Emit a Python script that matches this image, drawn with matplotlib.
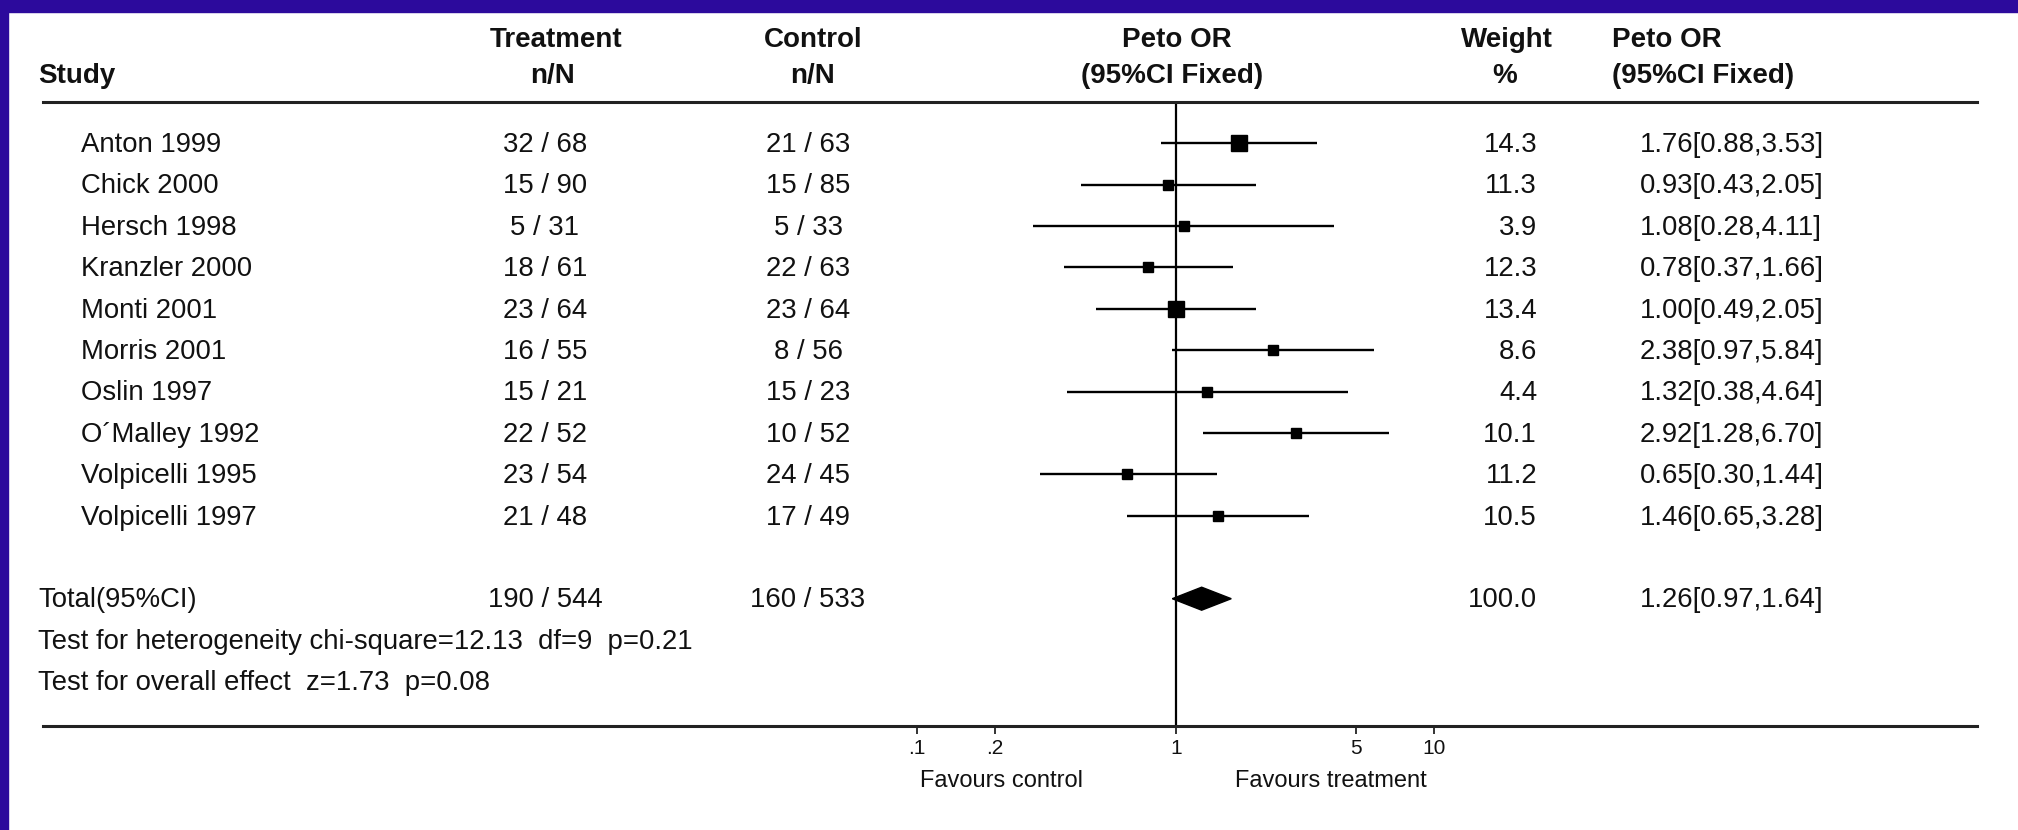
import matplotlib
matplotlib.use("Agg")
import matplotlib.pyplot as plt
import matplotlib.transforms as mtransforms
from matplotlib.patches import Rectangle

plt.rcParams['font.family'] = ['Liberation Sans', 'DejaVu Sans']

# --- data ---
studies = ["Anton 1999", "Chick 2000", "Hersch 1998", "Kranzler 2000", "Monti 2001",
           "Morris 2001", "Oslin 1997", "O´Malley 1992", "Volpicelli 1995", "Volpicelli 1997"]
treat_n = [32, 15, 5, 18, 23, 16, 15, 22, 23, 21]
treat_N = [68, 90, 31, 61, 64, 55, 21, 52, 54, 48]
ctrl_n = [21, 15, 5, 22, 23, 8, 15, 10, 24, 17]
ctrl_N = [63, 85, 33, 63, 64, 56, 23, 52, 45, 49]
weights = [14.3, 11.3, 3.9, 12.3, 13.4, 8.6, 4.4, 10.1, 11.2, 10.5]
or_est = [1.76, 0.93, 1.08, 0.78, 1.00, 2.38, 1.32, 2.92, 0.65, 1.46]
ci_low = [0.88, 0.43, 0.28, 0.37, 0.49, 0.97, 0.38, 1.28, 0.30, 0.65]
ci_high = [3.53, 2.05, 4.11, 1.66, 2.05, 5.84, 4.64, 6.70, 1.44, 3.28]

total_treat = (190, 544)
total_ctrl = (160, 533)
total_weight = 100.0
total_or, total_low, total_high = 1.26, 0.97, 1.64
heterogeneity = "Test for heterogeneity chi-square=12.13  df=9  p=0.21"
overall = "Test for overall effect  z=1.73  p=0.08"

tick_vals = [0.1, 0.2, 1, 5, 10]
tick_labels = [".1", ".2", "1", "5", "10"]

# --- figure / layout (pixels) ---
W, H = 2018, 830
fig = plt.figure(figsize=(W / 100, H / 100), dpi=100)
fig.patch.set_facecolor('white')

# blue frame (top + left)
blue = '#2c0a9c'
fig.patches.append(Rectangle((0, 1 - 12 / H), 1, 12 / H, transform=fig.transFigure,
                             color=blue, zorder=0))
fig.patches.append(Rectangle((0, 0), 8 / W, 1, transform=fig.transFigure,
                             color=blue, zorder=0))

x_left, x_right = 43, 1977
y_top, y_bot = 102, 726
ax = fig.add_axes([x_left / W, 1 - y_bot / H, (x_right - x_left) / W, (y_bot - y_top) / H])

# log axis: 1 at x=1175.7 px, one decade = 258.6 px
x_one, decade = 1175.7, 258.6
ax.set_xscale('log')
ax.set_xlim(10 ** ((x_left - x_one) / decade), 10 ** ((x_right - x_one) / decade))

# rows: first study at y=143.3 px, 41.4 px per row
row0, row_h = 143.3, 41.4
ax.set_ylim((y_bot - row0) / row_h, (y_top - row0) / row_h)

n = len(studies)
rows = list(range(n))
total_row, het_row, overall_row = 11, 12, 13

# confidence intervals and squares
ax.hlines(rows, ci_low, ci_high, color='black', lw=1.7, zorder=3)
for r, o, w in zip(rows, or_est, weights):
    ms = 11.2 if w > 13 else 7.2
    ax.plot(o, r, 's', color='black', ms=ms, zorder=4)

# pooled diamond
dh = 11.5 / row_h
ax.fill([total_low, total_or, total_high, total_or],
        [total_row, total_row - dh, total_row, total_row + dh],
        color='black', lw=1, zorder=4)

ax.axvline(1, color='black', lw=1.6, zorder=2)

for s in ['left', 'right']:
    ax.spines[s].set_visible(False)
for s in ['top', 'bottom']:
    ax.spines[s].set_linewidth(2.2)
    ax.spines[s].set_color('#222222')
ax.set_yticks([])
ax.set_xticks(tick_vals)
ax.set_xticklabels(tick_labels, fontsize=15)
ax.minorticks_off()
ax.tick_params(axis='x', direction='out', length=6, width=1.2, pad=3, colors='#111111')
ax.patch.set_alpha(0)

# --- table text ---
txt_color = '#111111'
body_fs = 19.8
head_fs = 20
base = mtransforms.blended_transform_factory(fig.transFigure, ax.transData)
trans = mtransforms.offset_copy(base, fig=fig, y=-8.7, units='dots')


def cell(xpx, r, s, ha='left'):
    ax.text(xpx / W, r, s, transform=trans, ha=ha, va='baseline',
            fontsize=body_fs, color=txt_color, clip_on=False)


for r in rows:
    cell(81, r, studies[r])
    cell(545, r, f"{treat_n[r]} / {treat_N[r]}", ha='center')
    cell(808, r, f"{ctrl_n[r]} / {ctrl_N[r]}", ha='center')
    cell(1537, r, f"{weights[r]:.1f}", ha='right')
    cell(1640, r, f"{or_est[r]:.2f}[{ci_low[r]:.2f},{ci_high[r]:.2f}]")

cell(38, total_row, "Total(95%CI)")
cell(545, total_row, f"{total_treat[0]} / {total_treat[1]}", ha='center')
cell(808, total_row, f"{total_ctrl[0]} / {total_ctrl[1]}", ha='center')
cell(1537, total_row, f"{total_weight:.1f}", ha='right')
cell(1640, total_row, f"{total_or:.2f}[{total_low:.2f},{total_high:.2f}]")
cell(38, het_row, heterogeneity)
cell(38, overall_row, overall)

# --- header ---
def head(xpx, ypx, s, ha='center'):
    fig.text(xpx / W, 1 - ypx / H, s, ha=ha, va='baseline', fontsize=head_fs,
             fontweight='bold', color=txt_color)


head(38, 83, "Study", ha='left')
head(556, 47, "Treatment")
head(552, 83, "n/N")
head(813, 47, "Control")
head(812, 83, "n/N")
head(1177, 47, "Peto OR")
head(1172, 83, "(95%CI Fixed)")
head(1507, 47, "Weight")
head(1505, 83, "%")
head(1612, 47, "Peto OR", ha='left')
head(1612, 83, "(95%CI Fixed)", ha='left')

# favours labels under the axis
fig.text(1001 / W, 1 - 781 / H, "Favours control", ha='center', va='center',
         fontsize=17, color=txt_color)
fig.text(1331 / W, 1 - 781 / H, "Favours treatment", ha='center', va='center',
         fontsize=17, color=txt_color)

fig.savefig("out.png", dpi=100, facecolor='white')
